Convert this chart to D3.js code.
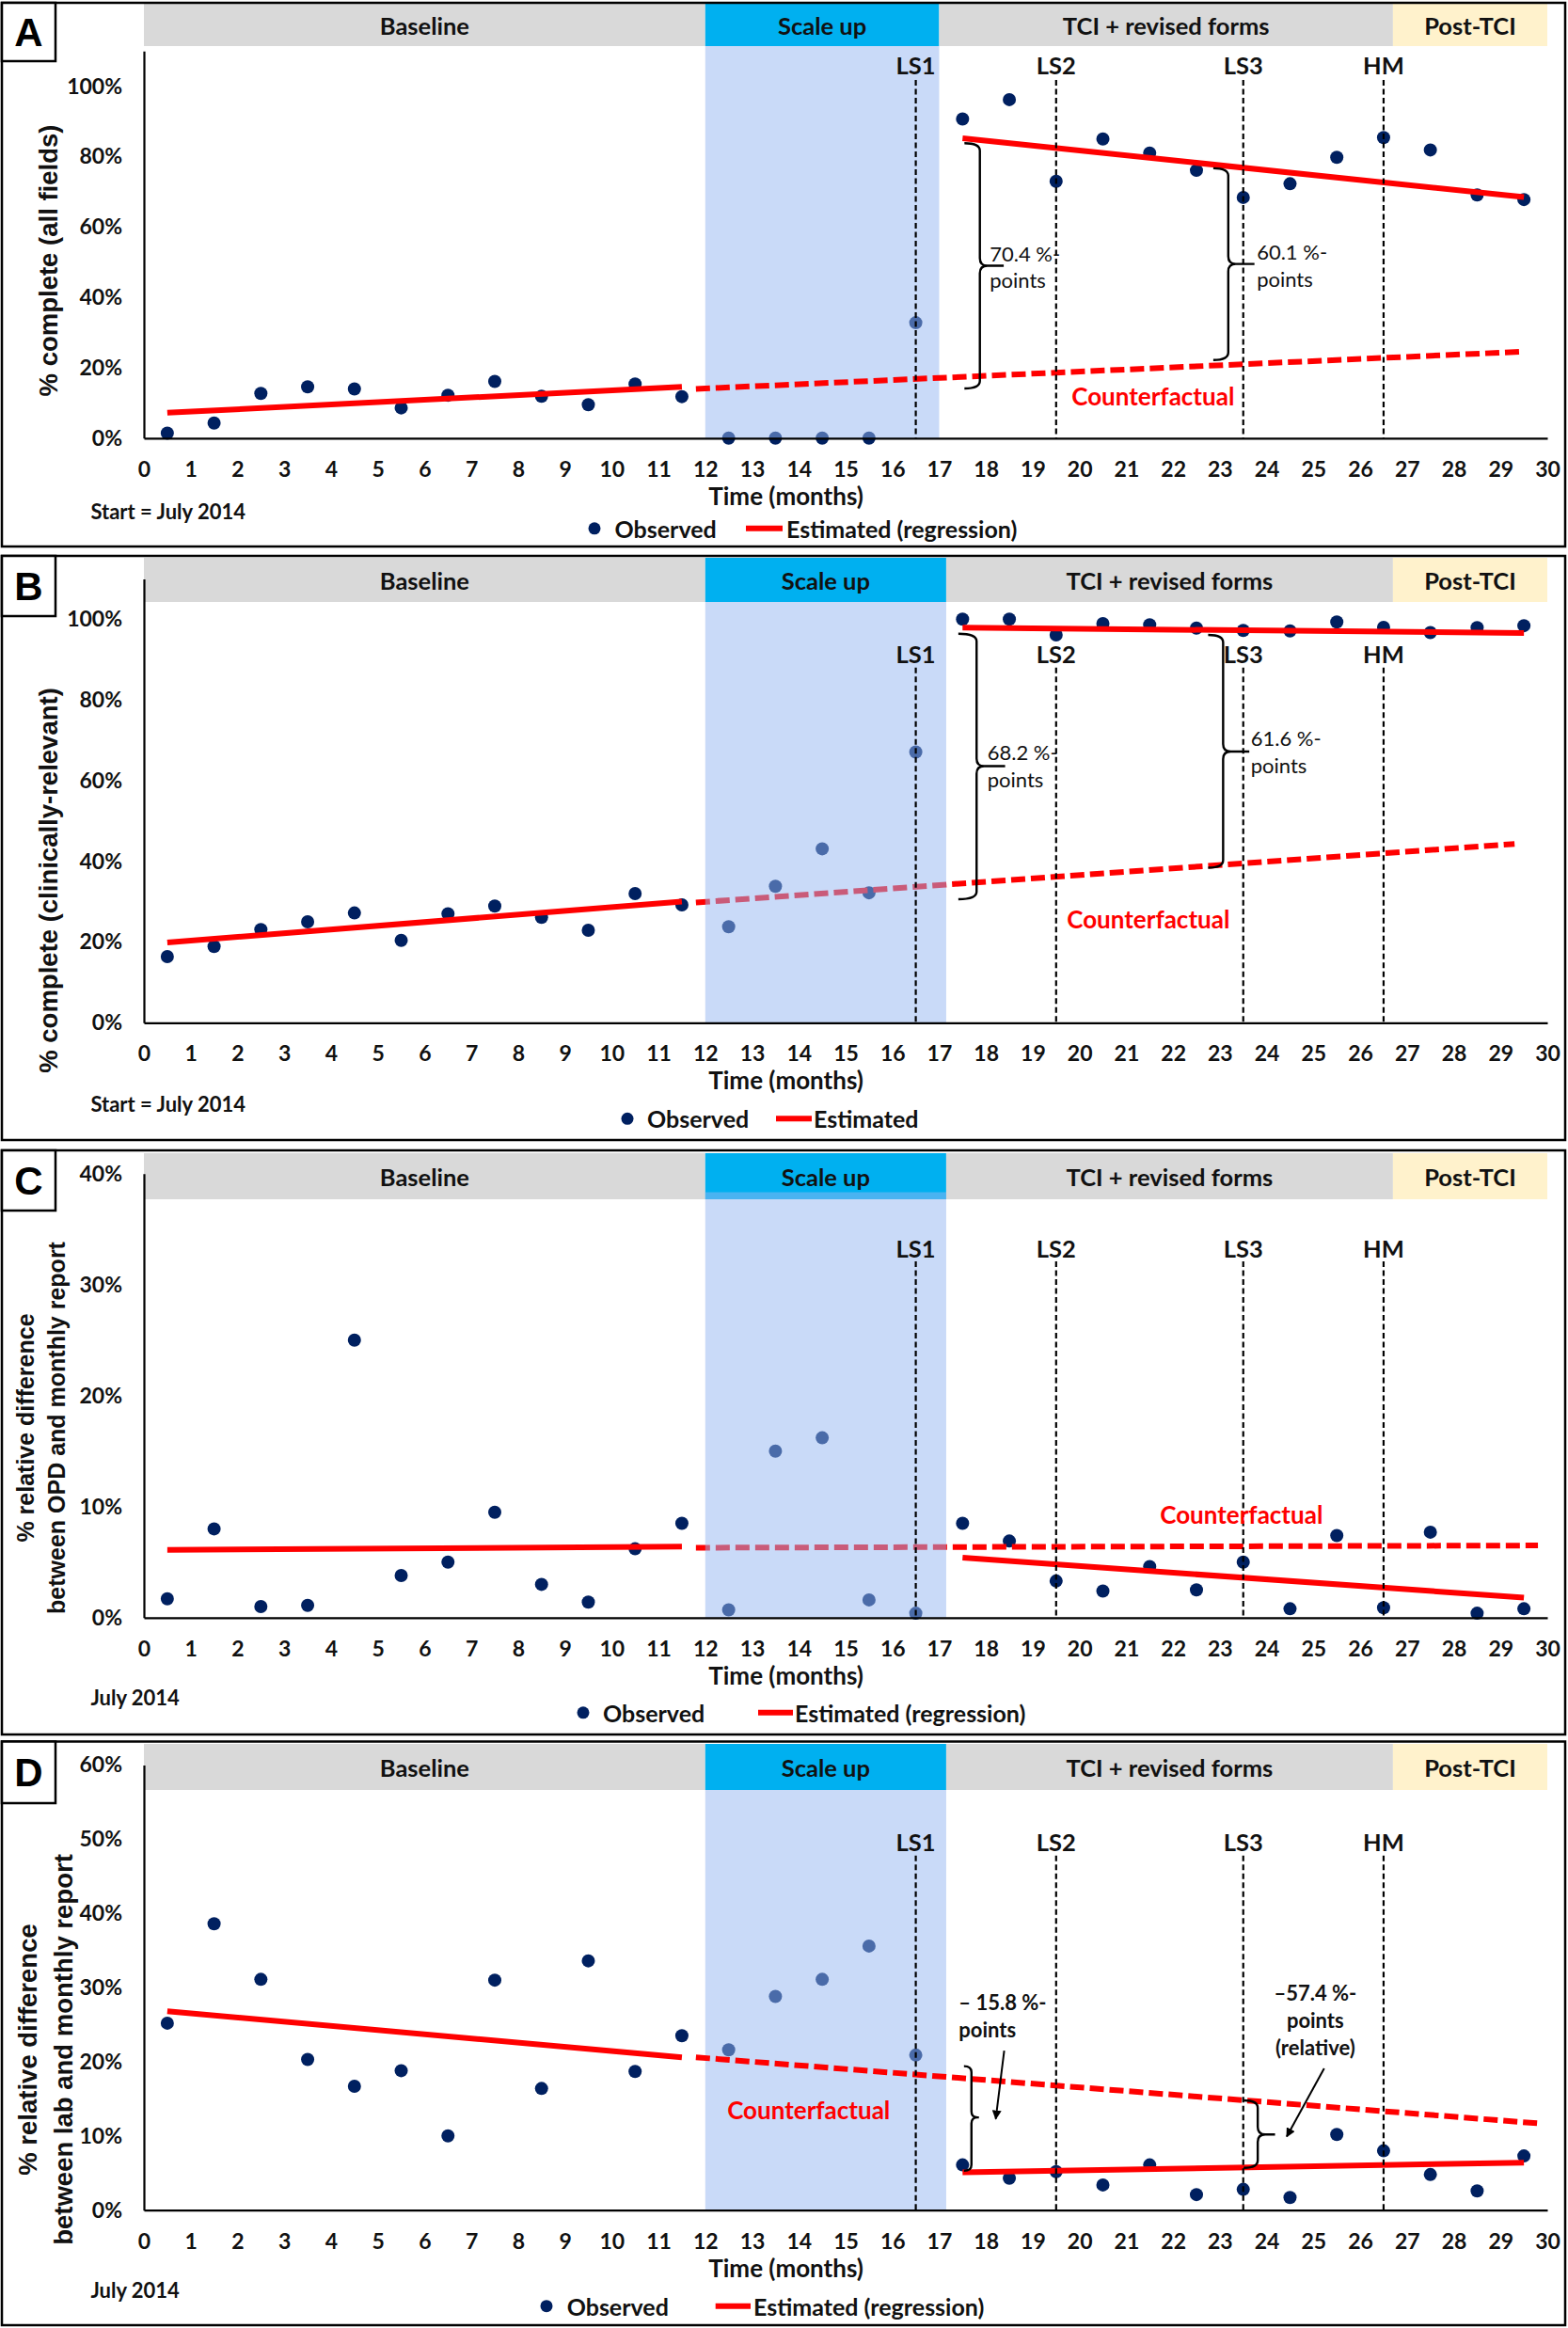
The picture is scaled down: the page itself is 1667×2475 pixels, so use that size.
<!DOCTYPE html>
<html><head><meta charset="utf-8">
<script src="https://cdn.jsdelivr.net/npm/d3@7"></script>
<style>body{margin:0;background:#fff} svg{display:block}</style>
</head><body><svg id="chart" width="1667" height="2475"></svg>
<script>
// ---------------- DATA ----------------
const months = [0.5,1.5,2.5,3.5,4.5,5.5,6.5,7.5,8.5,9.5,10.5,11.5,12.5,13.5,14.5,15.5,16.5,17.5,18.5,19.5,20.5,21.5,22.5,23.5,24.5,25.5,26.5,27.5,28.5,29.5];
const xTicks = [0,1,2,3,4,5,6,7,8,9,10,11,12,13,14,15,16,17,18,19,20,21,22,23,24,25,26,27,28,29,30];

const obsA = [1.4,4.3,12.7,14.6,14.0,8.6,12.2,16.1,11.9,9.5,15.4,11.8,0,0,0,0,32.8,90.7,96.2,73.0,85.0,81.0,76.1,68.4,72.3,79.8,85.4,81.9,69.1,67.8];
const obsB = [16.4,18.9,23.1,25.0,27.2,20.4,27.0,28.9,26.1,22.9,32.0,29.2,23.8,33.8,43.1,32.2,67.1,100,100,96.1,98.9,98.6,97.8,97.2,97.1,99.3,98.0,96.7,97.9,98.4];
const obsC = [1.7,8.0,1.0,1.1,25.0,3.8,5.0,9.5,3.0,1.4,6.2,8.5,0.7,15.0,16.2,1.6,0.4,8.5,6.9,3.3,2.4,4.6,2.5,5.0,0.8,7.4,0.9,7.7,0.4,0.8];
const obsD = [25.2,38.6,31.1,20.3,16.7,18.8,10.0,31.0,16.4,33.6,18.7,23.5,21.6,28.8,31.1,35.6,20.9,6.1,4.3,5.2,3.4,6.1,2.1,2.8,1.7,10.2,8.0,4.8,2.6,7.3];

// regression segments [month, %]
const preA = [[0.5,7.2],[11.5,14.6]];
const cfA  = [[11.8,14.0],[29.5,24.6]];
const postA = [[17.5,85.2],[29.5,68.5]];
const preB = [[0.5,19.9],[11.5,30.0]];
const cfB  = [[11.8,29.8],[29.3,44.3]];
const postB = [[17.5,97.9],[29.5,96.6]];
const preC = [[0.5,6.1],[11.5,6.4]];
const cfC  = [[11.8,6.3],[29.8,6.5]];
const postC = [[17.5,5.4],[29.5,1.8]];
const preD = [[0.5,26.8],[11.5,20.6]];
const cfD  = [[11.8,20.6],[29.8,11.7]];
const postD = [[17.5,5.1],[29.5,6.4]];

const phaseNames = ["Baseline","Scale up","TCI + revised forms","Post-TCI"];
const phaseBounds = [0,12,17,26.7,30];
const eventNames = ["LS1","LS2","LS3","HM"];
const eventMonths = [16.5,19.5,23.5,26.5];

const yTicksAB = [0,20,40,60,80,100];
const yTicksC = [0,10,20,30,40];
const yTicksD = [0,10,20,30,40,50,60];

// annotation braces: [leftHook, vertical, tip, top%, bottom%, mid%]
const bracesA = [[17.54,17.87,18.38,83.8,14.1,49.0],[22.86,23.18,23.74,76.7,22.2,49.5]];
const bracesB = [[17.41,17.80,18.41,96.4,30.6,63.6],[22.75,23.07,23.63,96.1,38.4,67.2]];
const bracesD = [[17.53,17.69,17.85,19.4,5.3,12.5],[23.51,23.81,24.18,14.8,5.7,10.2]];
// notes: [month, %, text, anchor]
const notesA = [[18.08,52.6,"70.4 %-","start"],[18.08,44.9,"points","start"],[23.79,53.0,"60.1 %-","start"],[23.79,45.2,"points","start"]];
const notesB = [[18.03,67.2,"68.2 %-","start"],[18.03,60.4,"points","start"],[23.66,70.5,"61.6 %-","start"],[23.66,63.9,"points","start"]];
const notesD = [[17.42,28.1,"\u2013 15.8 %-","start"],[17.42,24.4,"points","start"],[25.04,29.3,"\u201357.4 %-","middle"],[25.04,25.6,"points","middle"],[25.04,21.9,"(relative)","middle"]];
const arrowsD = [[18.39,21.5,18.21,12.3],[25.23,19.1,24.43,9.9]];

// ---------------- LAYOUT ----------------
const FONT = "Lato, 'Open Sans', sans-serif";
const YFONT = "'Liberation Sans', Arial, sans-serif";
const NAVY = "#002060", RED = "#ff0000";
const phaseColors = ["#d9d9d9","#00b0f0","#d9d9d9","#fff2cc"];

const panels = [
  {id:"A", obs:obsA, pre:preA, cf:cfA, post:postA, yTicks:yTicksAB, yRef:100, yMax:110,
   top:3, bottom:581, lbBottom:65, hTop:4, hBot:49, shadeTop:49, axisY:465.8, refY:91.7, scaleEnd:17.0,
   linesUnder:false, evTop:101.8, evLabel:106, cfText:[19.83,11.9],
   ylab:["% complete (all fields)"], ylabSize:27.5, ylabX:[51], ylabY:277,
   startTxt:"Start = July 2014", startDy:78, legDy:96, legDot:632, legObs:653.6, legLine:[793,832], legEst:836, estTxt:"Estimated (regression)",
   braces:bracesA, notes:notesA, noteBold:false, arrows:[]},
  {id:"B", obs:obsB, pre:preB, cf:cfB, post:postB, yTicks:yTicksAB, yRef:100, yMax:110,
   top:591, bottom:1212, lbBottom:655, hTop:593, hBot:640, shadeTop:640, axisY:1087.3, refY:658.3, scaleEnd:17.15,
   linesUnder:true, evTop:88, evLabel:91.4, cfText:[19.73,25.6],
   ylab:["% complete (clinically-relevant)"], ylabSize:27.5, ylabX:[51], ylabY:936,
   startTxt:"Start = July 2014", startDy:86, legDy:102, legDot:667, legObs:688, legLine:[825,863], legEst:865, estTxt:"Estimated",
   braces:bracesB, notes:notesB, noteBold:false, arrows:[]},
  {id:"C", obs:obsC, pre:preC, cf:cfC, post:postC, yTicks:yTicksC, yRef:40, yMax:40,
   top:1223, bottom:1844, lbBottom:1287, hTop:1226, hBot:1275, shadeTop:1267.5, axisY:1719.8, refY:1247.7, scaleEnd:17.15,
   linesUnder:true, evTop:32.1, evLabel:33.3, cfText:[21.72,9.3],
   ylab:["% relative difference","between OPD and monthly report"], ylabSize:25, ylabX:[27,60], ylabY:1518,
   startTxt:"July 2014", startDy:85, legDy:101, legDot:620, legObs:641, legLine:[806,843], legEst:845, estTxt:"Estimated (regression)",
   braces:[], notes:[], noteBold:false, arrows:[]},
  {id:"D", obs:obsD, pre:preD, cf:cfD, post:postD, yTicks:yTicksD, yRef:60, yMax:60,
   top:1851.5, bottom:2472, lbBottom:1917, hTop:1854, hBot:1903, shadeTop:1903, axisY:2349.7, refY:1876.4, scaleEnd:17.15,
   linesUnder:false, evTop:47.8, evLabel:49.7, cfText:[12.47,13.5],
   ylab:["% relative difference","between lab and monthly report"], ylabSize:27.5, ylabX:[29.5,67], ylabY:2179,
   startTxt:"July 2014", startDy:85, legDy:102, legDot:581, legObs:602.7, legLine:[760.7,798], legEst:801, estTxt:"Estimated (regression)",
   braces:bracesD, notes:notesD, noteBold:true, arrows:arrowsD}
];

// ---------------- DRAW ----------------
const svg = d3.select("#chart");
const x = d3.scaleLinear().domain([0,30]).range([153,1645]);

svg.append("defs").append("marker").attr("id","arrow").attr("viewBox","0 0 10 10")
  .attr("refX",9).attr("refY",5).attr("markerWidth",5).attr("markerHeight",5).attr("orient","auto")
  .append("path").attr("d","M0,0L10,5L0,10z").attr("fill","#000");

const line = (y) => d3.line().x(d=>x(d[0])).y(d=>y(d[1]));

panels.forEach(p => {
  const g = svg.append("g");
  const pxPer = (p.axisY - p.refY)/p.yRef;
  const y = d3.scaleLinear().domain([0,p.yMax]).range([p.axisY, p.axisY - p.yMax*pxPer]);
  const bounds = phaseBounds.map(b => b===17 ? p.scaleEnd : b);

  // header bands
  phaseNames.forEach((n,i) => {
    g.append("rect").attr("x",x(bounds[i])).attr("y",p.hTop)
      .attr("width",x(bounds[i+1])-x(bounds[i])).attr("height",p.hBot-p.hTop)
      .attr("fill",phaseColors[i]);
    g.append("text").attr("x",(x(bounds[i])+x(bounds[i+1]))/2).attr("y",(p.hTop+p.hBot)/2)
      .attr("text-anchor","middle").attr("dominant-baseline","central")
      .attr("font-family",FONT).attr("font-weight","bold").attr("font-size",25.5).attr("fill","#111")
      .text(n);
  });

  // observed dots
  g.append("g").selectAll("circle").data(months.map((m,i)=>[m,p.obs[i]])).join("circle")
    .attr("cx",d=>x(d[0])).attr("cy",d=>y(d[1])).attr("r",7).attr("fill",NAVY);

  const drawLines = () => {
    const lg = g.append("g").attr("fill","none").attr("stroke",RED).attr("stroke-width",6);
    lg.append("path").attr("d",line(y)(p.pre));
    lg.append("path").attr("d",line(y)(p.cf)).attr("stroke-dasharray","15,6");
    lg.append("path").attr("d",line(y)(p.post));
  };
  if (p.linesUnder) drawLines();

  // scale-up shading overlay
  g.append("rect").attr("x",x(12)).attr("y",p.shadeTop).attr("width",x(p.scaleEnd)-x(12))
    .attr("height",p.axisY-p.shadeTop).attr("fill","rgb(148,181,241)").attr("fill-opacity",0.5);

  if (!p.linesUnder) drawLines();

  // event lines
  eventMonths.forEach((m,i) => {
    g.append("line").attr("x1",x(m)).attr("x2",x(m)).attr("y1",y(p.evTop)).attr("y2",p.axisY)
      .attr("stroke","#000").attr("stroke-width",2.2).attr("stroke-dasharray","6,3.5");
    g.append("text").attr("x",x(m)).attr("y",y(p.evLabel)).attr("text-anchor","middle")
      .attr("dominant-baseline","central").attr("font-family",FONT).attr("font-weight","bold")
      .attr("font-size",25.5).attr("fill","#111").text(eventNames[i]);
  });

  // axes
  const xa = g.append("g").attr("transform",`translate(0,${p.axisY})`)
    .call(d3.axisBottom(x).tickValues(xTicks).tickSize(0).tickSizeOuter(0).tickFormat(d3.format("d")));
  xa.select(".domain").attr("stroke","#000").attr("stroke-width",2.2);
  xa.selectAll("text").attr("y",33).attr("dy","0.35em").attr("font-family",FONT)
    .attr("font-weight","bold").attr("font-size",23).attr("fill","#111");
  const ya = g.append("g").attr("transform",`translate(${x(0)},0)`)
    .call(d3.axisLeft(y).tickValues(p.yTicks).tickSize(0).tickSizeOuter(0).tickFormat(d=>d+"%"));
  ya.select(".domain").attr("stroke","#000").attr("stroke-width",2.2);
  ya.selectAll("text").attr("x",-23).attr("font-family",FONT)
    .attr("font-weight","bold").attr("font-size",23).attr("fill","#111");

  // counterfactual label
  g.append("text").attr("x",x(p.cfText[0])).attr("y",y(p.cfText[1])).attr("dominant-baseline","central")
    .attr("font-family",FONT).attr("font-weight","bold").attr("font-size",26).attr("fill",RED)
    .text("Counterfactual");

  // braces
  p.braces.forEach(b => {
    const x0=x(b[0]), xv=x(b[1]), xt=x(b[2]), yT=y(b[3]), yB=y(b[4]), yM=y(b[5]);
    const r = Math.min(8,(xv-x0)*0.8);
    const d = `M${x0},${yT} Q${xv},${yT} ${xv},${yT+r} L${xv},${yM-r} Q${xv},${yM} ${xv+r},${yM} L${xt},${yM} M${xv+r},${yM} Q${xv},${yM} ${xv},${yM+r} L${xv},${yB-r} Q${xv},${yB} ${x0},${yB}`;
    g.append("path").attr("d",d).attr("fill","none").attr("stroke","#000").attr("stroke-width",2.4);
  });
  p.notes.forEach(n => {
    g.append("text").attr("x",x(n[0])).attr("y",y(n[1])).attr("text-anchor",n[3])
      .attr("dominant-baseline","central").attr("font-family",FONT)
      .attr("font-weight",p.noteBold?"bold":"normal").attr("font-size",22).attr("fill","#111").text(n[2]);
  });
  p.arrows.forEach(a => {
    g.append("line").attr("x1",x(a[0])).attr("y1",y(a[1])).attr("x2",x(a[2])).attr("y2",y(a[3]))
      .attr("stroke","#000").attr("stroke-width",2).attr("marker-end","url(#arrow)");
  });

  // axis titles
  g.append("text").attr("x",835.6).attr("y",p.axisY+61).attr("text-anchor","middle")
    .attr("dominant-baseline","central").attr("font-family",FONT).attr("font-weight","bold")
    .attr("font-size",26).attr("fill","#111").text("Time (months)");
  g.append("text").attr("x",96.4).attr("y",p.axisY+p.startDy).attr("dominant-baseline","central")
    .attr("font-family",FONT).attr("font-weight","bold").attr("font-size",22).attr("fill","#111")
    .text(p.startTxt);
  p.ylab.forEach((t,i) => {
    g.append("text").attr("transform",`translate(${p.ylabX[i]},${p.ylabY}) rotate(-90)`)
      .attr("text-anchor","middle").attr("dominant-baseline","central").attr("font-family",YFONT)
      .attr("font-weight","bold").attr("font-size",p.ylabSize).attr("fill","#111").text(t);
  });

  // legend
  const ly = p.axisY + p.legDy;
  g.append("circle").attr("cx",p.legDot).attr("cy",ly).attr("r",6.5).attr("fill",NAVY);
  g.append("text").attr("x",p.legObs).attr("y",ly).attr("dominant-baseline","central")
    .attr("font-family",FONT).attr("font-weight","bold").attr("font-size",25).attr("fill","#111").text("Observed");
  g.append("line").attr("x1",p.legLine[0]).attr("x2",p.legLine[1]).attr("y1",ly).attr("y2",ly)
    .attr("stroke",RED).attr("stroke-width",6);
  g.append("text").attr("x",p.legEst).attr("y",ly).attr("dominant-baseline","central")
    .attr("font-family",FONT).attr("font-weight","bold").attr("font-size",25).attr("fill","#111").text(p.estTxt);

  // panel border and label box
  g.append("rect").attr("x",2).attr("y",p.top).attr("width",1662).attr("height",p.bottom-p.top)
    .attr("fill","none").attr("stroke","#000").attr("stroke-width",2.5);
  g.append("rect").attr("x",2).attr("y",p.top).attr("width",57).attr("height",p.lbBottom-p.top)
    .attr("fill","#fff").attr("stroke","#000").attr("stroke-width",2.5);
  g.append("text").attr("x",30.5).attr("y",(p.top+p.lbBottom)/2).attr("text-anchor","middle")
    .attr("dominant-baseline","central").attr("font-family",YFONT).attr("font-weight","bold")
    .attr("font-size",42).attr("fill","#000").text(p.id);
});
</script></body></html>
